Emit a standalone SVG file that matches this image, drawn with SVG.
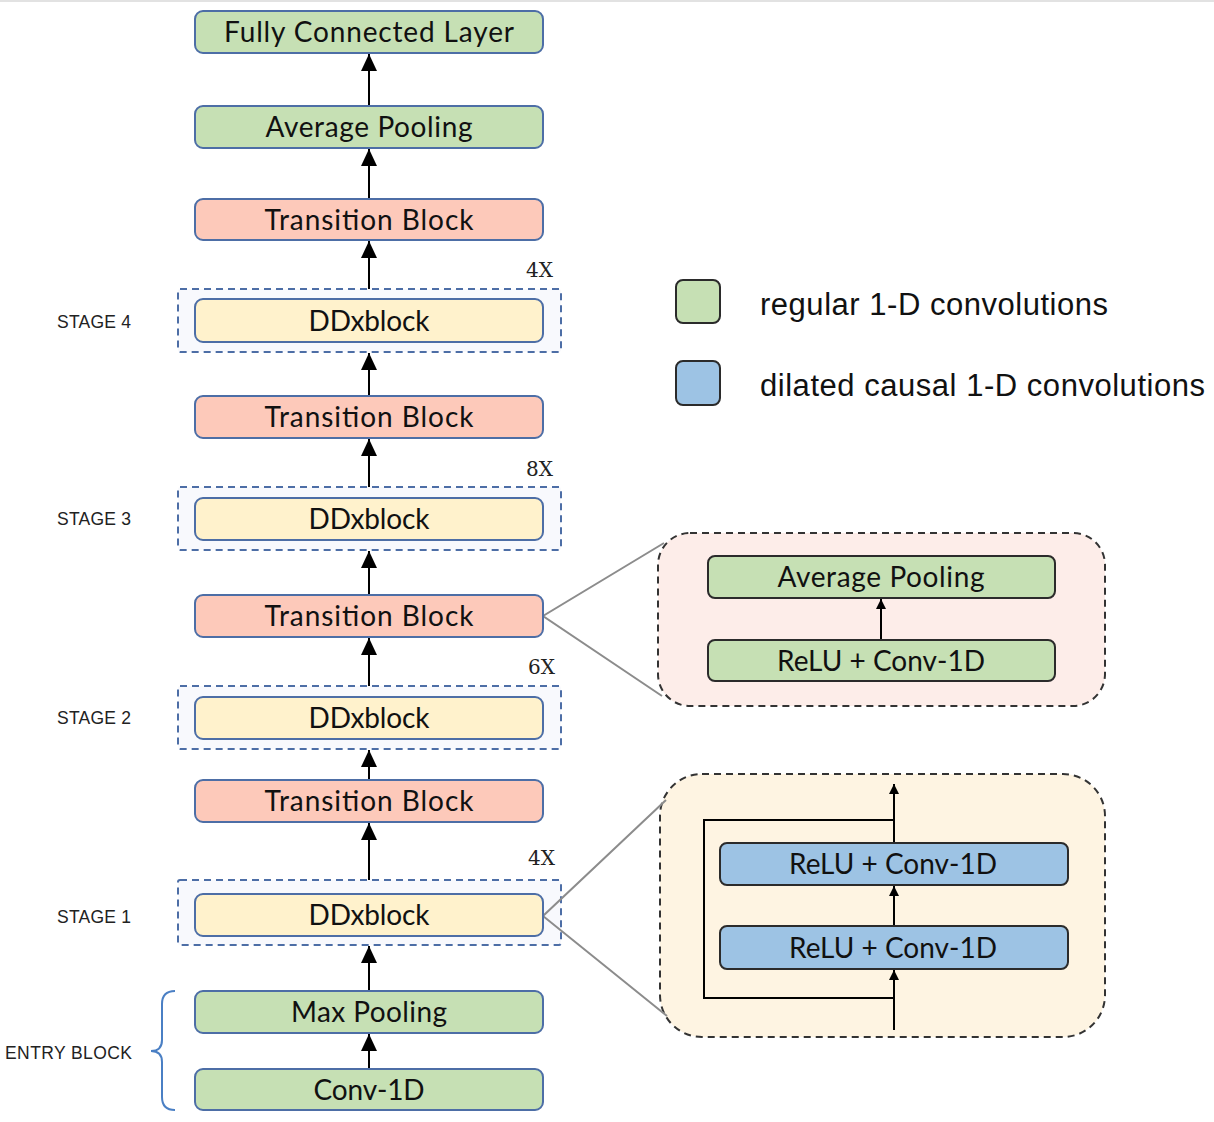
<svg xmlns="http://www.w3.org/2000/svg" width="1214" height="1122" viewBox="0 0 1214 1122">
<style>
.blk{stroke:#4d6ea6;stroke-width:2}
.g{fill:#c6e0b4}
.p{fill:#fdc9ba}
.y{fill:#fff2cc}
.b{fill:#9dc3e4}
.dark{stroke:#2b2b2b;stroke-width:2}
.stage{fill:#f8f9fd;stroke:#4d6ea6;stroke-width:2;stroke-dasharray:7 5}
.bt{font-family:Lato,"Open Sans",sans-serif;font-size:28px;fill:#111;text-anchor:middle}
.lab{font-family:"Liberation Sans",Arial,sans-serif;font-size:17.5px;fill:#222}
.mul{font-family:"DejaVu Serif",serif;font-size:20px;fill:#222}
.leg{font-family:"Liberation Sans",Arial,sans-serif;font-size:31px;fill:#111}
.conn{stroke:#000;stroke-width:2;fill:none}
.zoom{stroke:#8c8c8c;stroke-width:2;fill:none}
.panel{stroke:#333;stroke-width:2;stroke-dasharray:7 5}
</style>
<defs>
<marker id="ah" markerUnits="userSpaceOnUse" markerWidth="18" markerHeight="18" refX="17" refY="8" orient="auto">
<path d="M0,0 L17,8 L0,16 Z" fill="#000"/>
</marker>
<marker id="ahs" markerUnits="userSpaceOnUse" markerWidth="12" markerHeight="12" refX="10" refY="5" orient="auto">
<path d="M0,0 L10,5 L0,10 Z" fill="#000"/>
</marker>
</defs>
<rect x="0" y="0" width="1214" height="2" fill="#e2e2e2"/>

<!-- stage containers -->
<g id="stage4"><rect class="stage" x="178" y="289" width="383" height="63" rx="2"/></g>
<g id="stage3"><rect class="stage" x="178" y="487" width="383" height="63" rx="2"/></g>
<g id="stage2"><rect class="stage" x="178" y="686" width="383" height="63" rx="2"/></g>
<g id="stage1"><rect class="stage" x="178" y="880" width="383" height="65" rx="2"/></g>

<!-- zoom panels -->
<g id="panel-transition">
<rect class="panel" x="658" y="533" width="447" height="173" rx="32" fill="#fdede9"/>
</g>
<g id="panel-ddx">
<rect class="panel" x="660" y="774" width="445" height="263" rx="42" fill="#fef4e2"/>
</g>

<g id="connectors">
<line class="conn" x1="369" y1="106" x2="369" y2="54" marker-end="url(#ah)"/>
<line class="conn" x1="369" y1="199" x2="369" y2="149" marker-end="url(#ah)"/>
<line class="conn" x1="369" y1="289" x2="369" y2="241" marker-end="url(#ah)"/>
<line class="conn" x1="369" y1="396" x2="369" y2="353" marker-end="url(#ah)"/>
<line class="conn" x1="369" y1="487" x2="369" y2="439" marker-end="url(#ah)"/>
<line class="conn" x1="369" y1="595" x2="369" y2="551" marker-end="url(#ah)"/>
<line class="conn" x1="369" y1="686" x2="369" y2="638" marker-end="url(#ah)"/>
<line class="conn" x1="369" y1="780" x2="369" y2="750" marker-end="url(#ah)"/>
<line class="conn" x1="369" y1="880" x2="369" y2="823" marker-end="url(#ah)"/>
<line class="conn" x1="369" y1="991" x2="369" y2="946" marker-end="url(#ah)"/>
<line class="conn" x1="369" y1="1069" x2="369" y2="1034" marker-end="url(#ah)"/>
<!-- zoom lines -->
<polyline class="zoom" points="664,543 543,616 662,696"/>
<polyline class="zoom" points="666,800 543,916 667,1016"/>
<!-- inside panel 1 -->
<line class="conn" x1="881" y1="640" x2="881" y2="599" marker-end="url(#ahs)"/>
<!-- inside panel 2 -->
<line class="conn" x1="894" y1="1030" x2="894" y2="970" marker-end="url(#ahs)"/>
<line class="conn" x1="894" y1="926" x2="894" y2="886" marker-end="url(#ahs)"/>
<line class="conn" x1="894" y1="843" x2="894" y2="784" marker-end="url(#ahs)"/>
<polyline class="conn" points="894,998 704,998 704,820 894,820"/>
</g>

<!-- main column -->
<g id="fc"><rect class="blk g" x="195" y="11" width="348" height="42" rx="8"/><text class="bt" x="369" y="42" textLength="290">Fully Connected Layer</text></g>
<g id="avgpool"><rect class="blk g" x="195" y="106" width="348" height="42" rx="8"/><text class="bt" x="369" y="137" textLength="207">Average Pooling</text></g>
<g id="trans4"><rect class="blk p" x="195" y="199" width="348" height="41" rx="8"/><text class="bt" x="369" y="229.5" textLength="209">Transition Block</text></g>
<g id="ddx4"><rect class="blk y" x="195" y="299" width="348" height="43" rx="8"/><text class="bt" x="369" y="330.5" textLength="121">DDxblock</text></g>
<g id="trans3"><rect class="blk p" x="195" y="396" width="348" height="42" rx="8"/><text class="bt" x="369" y="427" textLength="209">Transition Block</text></g>
<g id="ddx3"><rect class="blk y" x="195" y="498" width="348" height="42" rx="8"/><text class="bt" x="369" y="529" textLength="121">DDxblock</text></g>
<g id="trans2"><rect class="blk p" x="195" y="595" width="348" height="42" rx="8"/><text class="bt" x="369" y="626" textLength="209">Transition Block</text></g>
<g id="ddx2"><rect class="blk y" x="195" y="697" width="348" height="42" rx="8"/><text class="bt" x="369" y="728" textLength="121">DDxblock</text></g>
<g id="trans1"><rect class="blk p" x="195" y="780" width="348" height="42" rx="8"/><text class="bt" x="369" y="811" textLength="209">Transition Block</text></g>
<g id="ddx1"><rect class="blk y" x="195" y="894" width="348" height="42" rx="8"/><text class="bt" x="369" y="925" textLength="121">DDxblock</text></g>
<g id="maxpool"><rect class="blk g" x="195" y="991" width="348" height="42" rx="8"/><text class="bt" x="369" y="1022" textLength="156">Max Pooling</text></g>
<g id="conv"><rect class="blk g" x="195" y="1069" width="348" height="41" rx="8"/><text class="bt" x="369" y="1099.5" textLength="111">Conv-1D</text></g>

<!-- multipliers -->
<text class="mul" x="526" y="277">4X</text>
<text class="mul" x="526" y="476">8X</text>
<text class="mul" x="528" y="674">6X</text>
<text class="mul" x="528" y="865">4X</text>

<!-- stage labels -->
<text class="lab" x="57" y="327.5" textLength="74">STAGE 4</text>
<text class="lab" x="57" y="524.5" textLength="74">STAGE 3</text>
<text class="lab" x="57" y="723.5" textLength="74">STAGE 2</text>
<text class="lab" x="57" y="922.5" textLength="74">STAGE 1</text>
<text class="lab" x="5" y="1058.5" textLength="127">ENTRY BLOCK</text>
<g id="brace"><path d="M175,991 Q162,991 162,1004 L162,1040 Q162,1051 151,1051 Q162,1051 162,1062 L162,1097 Q162,1110 175,1110" fill="none" stroke="#4a7fc4" stroke-width="2"/></g>

<!-- panel 1 contents -->
<g id="p1-avgpool"><rect class="dark g" x="708" y="556" width="347" height="42" rx="7"/><text class="bt" x="881" y="587" textLength="207">Average Pooling</text></g>
<g id="p1-relu"><rect class="dark g" x="708" y="640" width="347" height="41" rx="7"/><text class="bt" x="881" y="670.5" textLength="208">ReLU + Conv-1D</text></g>

<!-- panel 2 contents -->
<g id="p2-relu-top"><rect class="dark b" x="720" y="843" width="348" height="42" rx="7"/><text class="bt" x="893" y="874" textLength="208">ReLU + Conv-1D</text></g>
<g id="p2-relu-bot"><rect class="dark b" x="720" y="926" width="348" height="43" rx="7"/><text class="bt" x="893" y="957.5" textLength="208">ReLU + Conv-1D</text></g>

<!-- legend -->
<g id="legend-regular"><rect class="dark g" x="676" y="280" width="44" height="43" rx="7"/><text class="leg" x="760" y="315" textLength="348">regular 1-D convolutions</text></g>
<g id="legend-dilated"><rect class="dark b" x="676" y="361" width="44" height="44" rx="7"/><text class="leg" x="760" y="396" textLength="445">dilated causal 1-D convolutions</text></g>
</svg>
